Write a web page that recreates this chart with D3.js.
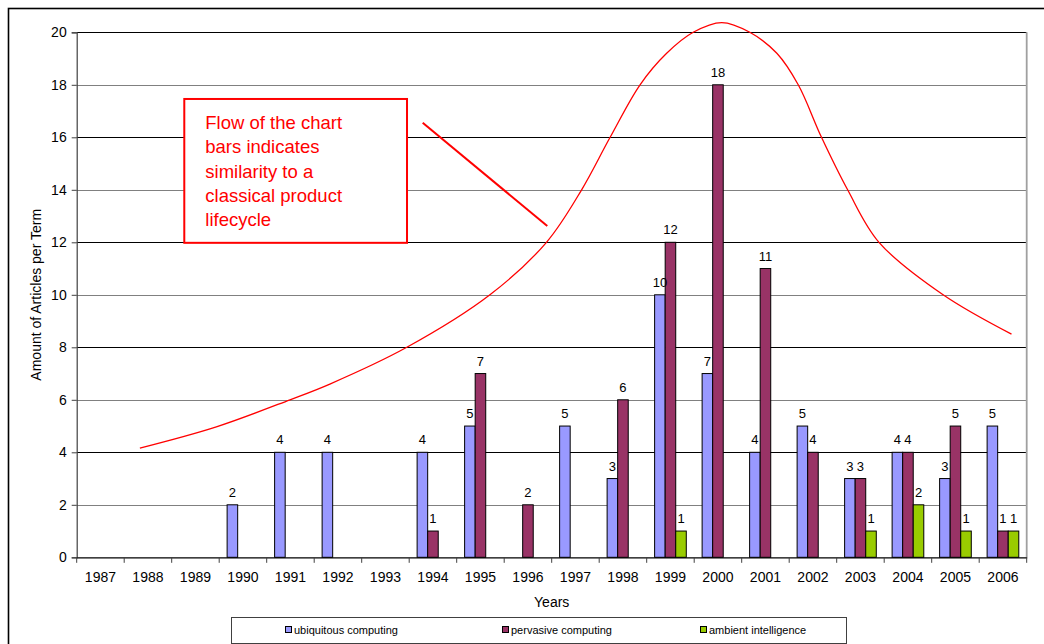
<!DOCTYPE html>
<html><head><meta charset="utf-8">
<script src="https://cdn.jsdelivr.net/npm/d3@7"></script>
<style>
body{margin:0;background:#fff;}
svg{display:block;}
text{font-family:"Liberation Sans",Arial,Helvetica,sans-serif;}
</style>
</head><body>
<svg id="chart" width="1044" height="644"></svg>
<script>
// ---- data ----
const years = ["1987","1988","1989","1990","1991","1992","1993","1994","1995","1996","1997","1998","1999","2000","2001","2002","2003","2004","2005","2006"];
const seriesNames = ["ubiquitous computing","pervasive computing","ambient intelligence"];
const ubiquitous = [0,0,0,2,4,4,0,4,5,0,5,3,10,7,4,5,3,4,3,5];
const pervasive  = [0,0,0,0,0,0,0,1,7,2,0,6,12,18,11,4,3,4,5,1];
const ambient    = [0,0,0,0,0,0,0,0,0,0,0,0,1,0,0,0,1,2,1,1];
const yTicks = [0,2,4,6,8,10,12,14,16,18,20];
// hand-drawn lifecycle curve (year position, value)
const lifecycleYear  = [1987.83,1989.44,1990.99,1991.83,1993.45,1995.2,1996.39,1997.13,1997.73,1998.36,1998.92,1999.48,2000.08,2000.67,2001.24,2001.69,2002.18,2002.73,2003.39,2004.74,2006.18];
const lifecycleValue = [4.16,4.97,6.0,6.6,8.0,10.0,12.0,14.0,16.0,18.0,19.2,20.0,20.37,20.0,19.2,18.0,16.0,14.0,12.0,10.0,8.5];
const noteLines = ["Flow of the chart","bars indicates","similarity to a","classical product","lifecycle"];
const noteBox = {x0:1988.765, x1:1993.454, y0:17.46, y1:11.98};
const notePointer = {x0:1993.784, y0:16.556, x1:1996.407, y1:12.62};
const xTitle = "Years";
const yTitle = "Amount of Articles per Term";

(function(){
// ---- layout ----
const pL = 76.7, pR = 1026.7, pT = 32.3, pB = 557.3;
const colors = ["#9999FF","#993366","#99CC00"];
const seriesValues = [ubiquitous, pervasive, ambient];

const svg = d3.select("#chart");
const font = '"Liberation Sans",Arial,sans-serif';

// outer border
svg.append("rect").attr("x",8.5).attr("y",8.5).attr("width",1100).attr("height",700)
  .attr("fill","#fff").attr("stroke","#000").attr("stroke-width",1.6);

const x0 = d3.scaleBand().domain(years).range([pL,pR]).padding(0);
const x1 = d3.scaleBand().domain(seriesNames).range([0,x0.bandwidth()]).paddingInner(0).paddingOuter(0.75);
const y = d3.scaleLinear().domain([0,20]).range([pB,pT]);
const xc = d3.scaleLinear().domain([+years[0]-0.5, +years[years.length-1]+0.5]).range([pL,pR]);

// gridlines
svg.append("g").selectAll("line").data(yTicks.filter(t=>t>0)).join("line")
  .attr("x1",pL).attr("x2",pR)
  .attr("y1",d=>Math.round(y(d))+0.5).attr("y2",d=>Math.round(y(d))+0.5)
  .attr("stroke",d=> d%4===0 ? "#000" : "#808080").attr("stroke-width",1);

// plot right border
svg.append("line").attr("x1",pR).attr("x2",pR).attr("y1",pT).attr("y2",pB)
  .attr("stroke","#a0a0a0").attr("stroke-width",1.8);

// bars
const groups = svg.append("g").selectAll("g").data(years).join("g")
  .attr("transform",d=>`translate(${x0(d)},0)`);
const barData = (yr,i)=> seriesNames.map((s,k)=>({s,k,v:seriesValues[k][i]}));
groups.selectAll("rect").data((d,i)=>barData(d,i).filter(b=>b.v>0)).join("rect")
  .attr("x",b=>x1(b.s)).attr("width",x1.bandwidth())
  .attr("y",b=>y(b.v)).attr("height",b=>y(0)-y(b.v))
  .attr("fill",b=>colors[b.k]).attr("stroke","#000").attr("stroke-width",1);
groups.selectAll("text").data((d,i)=>barData(d,i).filter(b=>b.v>0)).join("text")
  .attr("x",b=>x1(b.s)+x1.bandwidth()/2).attr("y",b=>y(b.v)-8)
  .attr("text-anchor","middle").attr("font-size","13px").attr("fill","#000")
  .text(b=>b.v);

// y axis
const yAxis = svg.append("g").attr("transform",`translate(${pL},0)`)
  .call(d3.axisLeft(y).tickValues(yTicks).tickSize(5).tickPadding(5).tickFormat(d3.format("d")));
yAxis.select(".domain").attr("stroke","#404040").attr("stroke-width",1.2);
yAxis.selectAll(".tick line").attr("stroke","#404040");
yAxis.selectAll("text").attr("font-size","14px").attr("fill","#000").attr("font-family",font);

// x axis
const xAxis = svg.append("g").attr("transform",`translate(0,${pB})`)
  .call(d3.axisBottom(x0).tickSize(0).tickPadding(15));
xAxis.select(".domain").attr("stroke","#000").attr("stroke-width",1.2);
xAxis.selectAll("text").attr("font-size","14px").attr("fill","#000").attr("font-family",font);
// tick marks at category boundaries
const boundaries = years.map(d=>x0(d)).concat([pR]);
svg.append("g").selectAll("line").data(boundaries).join("line")
  .attr("x1",d=>d).attr("x2",d=>d).attr("y1",pB).attr("y2",pB+5.5)
  .attr("stroke","#404040").attr("stroke-width",1);

// axis titles
svg.append("text").attr("x",(pL+pR)/2).attr("y",606.5).attr("text-anchor","middle")
  .attr("font-size","14px").attr("fill","#000").text(xTitle);
svg.append("text").attr("transform",`translate(40.5,${(pT+pB)/2}) rotate(-90)`)
  .attr("text-anchor","middle").attr("font-size","14px").attr("fill","#000").text(yTitle);

// lifecycle curve
const line = d3.line().x((d,i)=>xc(lifecycleYear[i])).y((d,i)=>y(lifecycleValue[i])).curve(d3.curveCatmullRom.alpha(0.5));
svg.append("path").datum(lifecycleValue).attr("d",line)
  .attr("fill","none").attr("stroke","#FF0000").attr("stroke-width",1.3);

// annotation
const bx = xc(noteBox.x0), by = y(noteBox.y0), bw = xc(noteBox.x1)-bx, bh = y(noteBox.y1)-by;
svg.append("rect").attr("x",bx).attr("y",by).attr("width",bw).attr("height",bh)
  .attr("fill","#fff").attr("stroke","#FF0000").attr("stroke-width",2);
svg.append("g").selectAll("text").data(noteLines).join("text")
  .attr("x",bx+21).attr("y",(d,i)=>by+30.3+i*24.2)
  .attr("font-size","18.5px").attr("fill","#FF0000").text(d=>d);
svg.append("line")
  .attr("x1",xc(notePointer.x0)).attr("y1",y(notePointer.y0))
  .attr("x2",xc(notePointer.x1)).attr("y2",y(notePointer.y1))
  .attr("stroke","#FF0000").attr("stroke-width",2);

// legend
const lg = svg.append("g");
lg.append("rect").attr("x",231.5).attr("y",617.5).attr("width",615).attr("height",26)
  .attr("fill","#fff").attr("stroke","#404040").attr("stroke-width",1);
const legendX = [285,502,700];
seriesNames.forEach((s,k)=>{
  lg.append("rect").attr("x",legendX[k]+0.5).attr("y",626.5).attr("width",6).attr("height",6)
    .attr("fill",colors[k]).attr("stroke","#000").attr("stroke-width",1);
  lg.append("text").attr("x",legendX[k]+9).attr("y",634).attr("font-size","11px")
    .attr("fill","#000").text(s);
});
})();
</script>
</body></html>
